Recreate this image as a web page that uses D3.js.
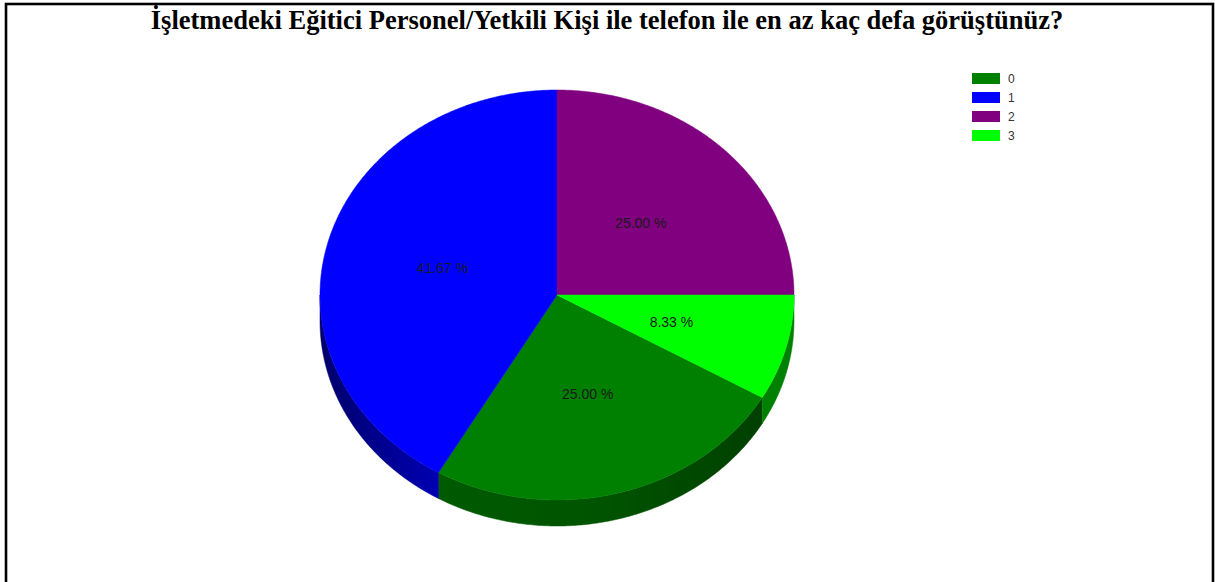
<!DOCTYPE html>
<html>
<head>
<meta charset="utf-8">
<script src="https://cdn.jsdelivr.net/npm/d3@7/dist/d3.min.js"></script>
<style>
  html, body { margin: 0; padding: 0; background: #fff; }
  svg { display: block; }
</style>
</head>
<body>
<svg id="chart" width="1215" height="582"></svg>
<script>
// Survey answers: how many times the trainer/authorised person was phoned
const categories = ["0", "1", "2", "3"];
const counts = [3, 5, 3, 1];
const colors = ["#008000", "#0000FF", "#800080", "#00FF00"];
const title = "İşletmedeki Eğitici Personel/Yetkili Kişi ile telefon ile en az kaç defa görüştünüz?";

const W = 1215, H = 582;
const svg = d3.select("#chart");

// frame
svg.append("rect")
  .attr("x", 6).attr("y", 4)
  .attr("width", 1207).attr("height", 620)
  .attr("fill", "none").attr("stroke", "#000").attr("stroke-width", 2.6);

// title, sized to span the measured width
const t = svg.append("text")
  .attr("x", 607).attr("y", 29)
  .attr("text-anchor", "middle")
  .attr("font-family", "'Liberation Serif','Times New Roman',serif")
  .attr("font-weight", "bold")
  .attr("font-size", 21)
  .attr("fill", "#000")
  .text(title);
const tw = t.node().getComputedTextLength();
t.attr("font-size", 21 * 913 / tw);

// 3D pie geometry
const cx = 557, cy = 295, rx = 237, ry = 205, depth = 26;
const start = 120 * Math.PI / 180;

const pie = d3.pie().sort(null).value(d => d.v)
  .startAngle(start).endAngle(start + 2 * Math.PI);
const data = categories.map((c, i) => ({ c, v: counts[i], col: colors[i] }));
const arcs = pie(data);
const total = d3.sum(counts);

const px = a => cx + rx * Math.sin(a);
const py = a => cy - ry * Math.cos(a);

function topPath(a0, a1) {
  const n = Math.max(8, Math.ceil((a1 - a0) / 0.01));
  const pts = d3.range(n + 1).map(i => {
    const a = a0 + (a1 - a0) * i / n;
    return [px(a), py(a)];
  });
  return "M" + cx + "," + cy + "L" + pts.map(p => p.join(",")).join("L") + "Z";
}

function sidePath(a0, a1) {
  const n = Math.max(8, Math.ceil((a1 - a0) / 0.01));
  const upper = d3.range(n + 1).map(i => {
    const a = a0 + (a1 - a0) * i / n;
    return [px(a), py(a)];
  });
  const lower = upper.slice().reverse().map(p => [p[0], p[1] + depth]);
  return "M" + upper.concat(lower).map(p => p.join(",")).join("L") + "Z";
}

// side shading gradients
const defs = svg.append("defs");
const shade = [[320, 0.42], [440, 0.7], [600, 0.66], [760, 0.5], [795, 0.5]];
data.forEach((d, i) => {
  const g = defs.append("linearGradient")
    .attr("id", "side" + i)
    .attr("gradientUnits", "userSpaceOnUse")
    .attr("x1", 320).attr("x2", 795).attr("y1", 0).attr("y2", 0);
  const base = d3.rgb(d.col);
  shade.forEach(([x, f]) => {
    g.append("stop")
      .attr("offset", (x - 320) / 475)
      .attr("stop-color", d3.rgb(base.r * f, base.g * f, base.b * f).formatHex());
  });
});

// visible rim lies between angles PI/2 and 3PI/2 (front half)
const sides = svg.append("g");
arcs.forEach((a, i) => {
  // normalise into [0, 2PI) ranges, possibly split
  const segs = [];
  let a0 = a.startAngle, a1 = a.endAngle;
  [0, 2 * Math.PI, 4 * Math.PI].forEach(off => {
    const lo = Math.max(a0, Math.PI / 2 + off - 0 ), hi = Math.min(a1, 3 * Math.PI / 2 + off);
    if (hi > lo) segs.push([lo, hi]);
  });
  segs.forEach(([s, e]) => {
    sides.append("path")
      .attr("d", sidePath(s, e))
      .attr("fill", `url(#side${i})`)
      .attr("stroke", `url(#side${i})`).attr("stroke-width", 0.5);
  });
});

// top faces
const tops = svg.append("g");
arcs.forEach(a => {
  tops.append("path")
    .attr("d", topPath(a.startAngle, a.endAngle))
    .attr("fill", a.data.col)
    .attr("stroke", a.data.col).attr("stroke-width", 0.5);
});

// percentage labels at half radius
const labels = svg.append("g")
  .attr("font-family", "'Liberation Sans',Arial,sans-serif")
  .attr("font-size", 14)
  .attr("fill", "#1a1a1a")
  .attr("text-anchor", "middle");
arcs.forEach(a => {
  const m = (a.startAngle + a.endAngle) / 2;
  labels.append("text")
    .attr("x", cx + 0.5 * rx * Math.sin(m))
    .attr("y", cy - 0.5 * ry * Math.cos(m) + 5)
    .text(d3.format(".2f")(a.data.v / total * 100) + " %");
});

// legend
const legend = svg.append("g").attr("transform", "translate(972,73)");
data.forEach((d, i) => {
  const row = legend.append("g").attr("transform", `translate(0,${i * 19})`);
  row.append("rect").attr("width", 28).attr("height", 11).attr("fill", d.col);
  row.append("text")
    .attr("x", 36).attr("y", 10)
    .attr("font-family", "'Liberation Sans',Arial,sans-serif")
    .attr("font-size", 12).attr("fill", "#333")
    .text(d.c);
});
</script>
</body>
</html>
